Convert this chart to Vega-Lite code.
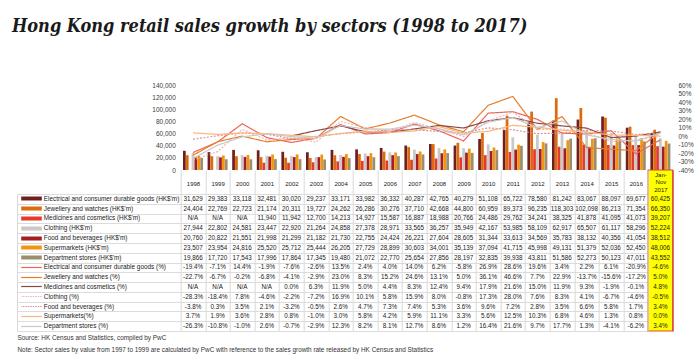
{
"$schema": "https://vega.github.io/schema/vega-lite/v6.json",
"autosize": {"type": "none"},
"width": 492, "height": 246,
"padding": {"left": 180.7, "top": 85, "right": 27.3, "bottom": 26},
"title": {"text": "Hong Kong retail sales growth by sectors (1998 to 2017)", "anchor": "start", "frame": "group", "orient": "top", "font": "DejaVu Serif Condensed, DejaVu Serif", "fontSize": 18, "fontStyle": "italic", "fontWeight": "bold", "color": "#1a1a1a", "dx": -168.7, "offset": 32, "baseline": "alphabetic"},
"config": {"font": "Liberation Sans", "view": {"stroke": null}, "locale": {"number": {"decimal": ".", "thousands": ",", "grouping": [3], "currency": ["$", ""], "minus": "-"}}},
"data": {"values": [
{"row":"Electrical and consumer durable goods (HK$'m)","year":"1998","v":31629},
{"row":"Electrical and consumer durable goods (HK$'m)","year":"1999","v":29383},
{"row":"Electrical and consumer durable goods (HK$'m)","year":"2000","v":33118},
{"row":"Electrical and consumer durable goods (HK$'m)","year":"2001","v":32481},
{"row":"Electrical and consumer durable goods (HK$'m)","year":"2002","v":30020},
{"row":"Electrical and consumer durable goods (HK$'m)","year":"2003","v":29237},
{"row":"Electrical and consumer durable goods (HK$'m)","year":"2004","v":33171},
{"row":"Electrical and consumer durable goods (HK$'m)","year":"2005","v":33982},
{"row":"Electrical and consumer durable goods (HK$'m)","year":"2006","v":36332},
{"row":"Electrical and consumer durable goods (HK$'m)","year":"2007","v":40287},
{"row":"Electrical and consumer durable goods (HK$'m)","year":"2008","v":42765},
{"row":"Electrical and consumer durable goods (HK$'m)","year":"2009","v":40279},
{"row":"Electrical and consumer durable goods (HK$'m)","year":"2010","v":51108},
{"row":"Electrical and consumer durable goods (HK$'m)","year":"2011","v":65722},
{"row":"Electrical and consumer durable goods (HK$'m)","year":"2012","v":78580},
{"row":"Electrical and consumer durable goods (HK$'m)","year":"2013","v":81242},
{"row":"Electrical and consumer durable goods (HK$'m)","year":"2014","v":83067},
{"row":"Electrical and consumer durable goods (HK$'m)","year":"2015","v":88097},
{"row":"Electrical and consumer durable goods (HK$'m)","year":"2016","v":69677},
{"row":"Electrical and consumer durable goods (HK$'m)","year":"Jan-Nov 2017","v":60425},
{"row":"Jewellery and watches (HK$'m)","year":"1998","v":24404},
{"row":"Jewellery and watches (HK$'m)","year":"1999","v":22769},
{"row":"Jewellery and watches (HK$'m)","year":"2000","v":22723},
{"row":"Jewellery and watches (HK$'m)","year":"2001","v":21174},
{"row":"Jewellery and watches (HK$'m)","year":"2002","v":20311},
{"row":"Jewellery and watches (HK$'m)","year":"2003","v":19727},
{"row":"Jewellery and watches (HK$'m)","year":"2004","v":24262},
{"row":"Jewellery and watches (HK$'m)","year":"2005","v":26286},
{"row":"Jewellery and watches (HK$'m)","year":"2006","v":30276},
{"row":"Jewellery and watches (HK$'m)","year":"2007","v":37710},
{"row":"Jewellery and watches (HK$'m)","year":"2008","v":42668},
{"row":"Jewellery and watches (HK$'m)","year":"2009","v":44800},
{"row":"Jewellery and watches (HK$'m)","year":"2010","v":60959},
{"row":"Jewellery and watches (HK$'m)","year":"2011","v":89373},
{"row":"Jewellery and watches (HK$'m)","year":"2012","v":96235},
{"row":"Jewellery and watches (HK$'m)","year":"2013","v":118303},
{"row":"Jewellery and watches (HK$'m)","year":"2014","v":102098},
{"row":"Jewellery and watches (HK$'m)","year":"2015","v":86213},
{"row":"Jewellery and watches (HK$'m)","year":"2016","v":71354},
{"row":"Jewellery and watches (HK$'m)","year":"Jan-Nov 2017","v":66350},
{"row":"Medicines and cosmetics (HK$'m)","year":"1998","v":null},
{"row":"Medicines and cosmetics (HK$'m)","year":"1999","v":null},
{"row":"Medicines and cosmetics (HK$'m)","year":"2000","v":null},
{"row":"Medicines and cosmetics (HK$'m)","year":"2001","v":11940},
{"row":"Medicines and cosmetics (HK$'m)","year":"2002","v":11942},
{"row":"Medicines and cosmetics (HK$'m)","year":"2003","v":12700},
{"row":"Medicines and cosmetics (HK$'m)","year":"2004","v":14213},
{"row":"Medicines and cosmetics (HK$'m)","year":"2005","v":14927},
{"row":"Medicines and cosmetics (HK$'m)","year":"2006","v":15587},
{"row":"Medicines and cosmetics (HK$'m)","year":"2007","v":16887},
{"row":"Medicines and cosmetics (HK$'m)","year":"2008","v":18988},
{"row":"Medicines and cosmetics (HK$'m)","year":"2009","v":20766},
{"row":"Medicines and cosmetics (HK$'m)","year":"2010","v":24486},
{"row":"Medicines and cosmetics (HK$'m)","year":"2011","v":29762},
{"row":"Medicines and cosmetics (HK$'m)","year":"2012","v":34241},
{"row":"Medicines and cosmetics (HK$'m)","year":"2013","v":38325},
{"row":"Medicines and cosmetics (HK$'m)","year":"2014","v":41878},
{"row":"Medicines and cosmetics (HK$'m)","year":"2015","v":41095},
{"row":"Medicines and cosmetics (HK$'m)","year":"2016","v":41073},
{"row":"Medicines and cosmetics (HK$'m)","year":"Jan-Nov 2017","v":39207},
{"row":"Clothing (HK$'m)","year":"1998","v":27944},
{"row":"Clothing (HK$'m)","year":"1999","v":22802},
{"row":"Clothing (HK$'m)","year":"2000","v":24581},
{"row":"Clothing (HK$'m)","year":"2001","v":23447},
{"row":"Clothing (HK$'m)","year":"2002","v":22920},
{"row":"Clothing (HK$'m)","year":"2003","v":21264},
{"row":"Clothing (HK$'m)","year":"2004","v":24858},
{"row":"Clothing (HK$'m)","year":"2005","v":27378},
{"row":"Clothing (HK$'m)","year":"2006","v":28971},
{"row":"Clothing (HK$'m)","year":"2007","v":33565},
{"row":"Clothing (HK$'m)","year":"2008","v":36257},
{"row":"Clothing (HK$'m)","year":"2009","v":35949},
{"row":"Clothing (HK$'m)","year":"2010","v":42167},
{"row":"Clothing (HK$'m)","year":"2011","v":53985},
{"row":"Clothing (HK$'m)","year":"2012","v":58109},
{"row":"Clothing (HK$'m)","year":"2013","v":62917},
{"row":"Clothing (HK$'m)","year":"2014","v":65507},
{"row":"Clothing (HK$'m)","year":"2015","v":61117},
{"row":"Clothing (HK$'m)","year":"2016","v":58296},
{"row":"Clothing (HK$'m)","year":"Jan-Nov 2017","v":52224},
{"row":"Food and beverages (HK$'m)","year":"1998","v":20760},
{"row":"Food and beverages (HK$'m)","year":"1999","v":20822},
{"row":"Food and beverages (HK$'m)","year":"2000","v":21551},
{"row":"Food and beverages (HK$'m)","year":"2001","v":21998},
{"row":"Food and beverages (HK$'m)","year":"2002","v":21299},
{"row":"Food and beverages (HK$'m)","year":"2003","v":21182},
{"row":"Food and beverages (HK$'m)","year":"2004","v":21730},
{"row":"Food and beverages (HK$'m)","year":"2005","v":22755},
{"row":"Food and beverages (HK$'m)","year":"2006","v":24424},
{"row":"Food and beverages (HK$'m)","year":"2007","v":26221},
{"row":"Food and beverages (HK$'m)","year":"2008","v":27604},
{"row":"Food and beverages (HK$'m)","year":"2009","v":28605},
{"row":"Food and beverages (HK$'m)","year":"2010","v":31344},
{"row":"Food and beverages (HK$'m)","year":"2011","v":33613},
{"row":"Food and beverages (HK$'m)","year":"2012","v":34569},
{"row":"Food and beverages (HK$'m)","year":"2013","v":35783},
{"row":"Food and beverages (HK$'m)","year":"2014","v":38132},
{"row":"Food and beverages (HK$'m)","year":"2015","v":40356},
{"row":"Food and beverages (HK$'m)","year":"2016","v":41054},
{"row":"Food and beverages (HK$'m)","year":"Jan-Nov 2017","v":38512},
{"row":"Supermarkets (HK$'m)","year":"1998","v":23507},
{"row":"Supermarkets (HK$'m)","year":"1999","v":23954},
{"row":"Supermarkets (HK$'m)","year":"2000","v":24816},
{"row":"Supermarkets (HK$'m)","year":"2001","v":25520},
{"row":"Supermarkets (HK$'m)","year":"2002","v":25712},
{"row":"Supermarkets (HK$'m)","year":"2003","v":25444},
{"row":"Supermarkets (HK$'m)","year":"2004","v":26205},
{"row":"Supermarkets (HK$'m)","year":"2005","v":27729},
{"row":"Supermarkets (HK$'m)","year":"2006","v":28899},
{"row":"Supermarkets (HK$'m)","year":"2007","v":30603},
{"row":"Supermarkets (HK$'m)","year":"2008","v":34001},
{"row":"Supermarkets (HK$'m)","year":"2009","v":35139},
{"row":"Supermarkets (HK$'m)","year":"2010","v":37094},
{"row":"Supermarkets (HK$'m)","year":"2011","v":41715},
{"row":"Supermarkets (HK$'m)","year":"2012","v":45998},
{"row":"Supermarkets (HK$'m)","year":"2013","v":49131},
{"row":"Supermarkets (HK$'m)","year":"2014","v":51379},
{"row":"Supermarkets (HK$'m)","year":"2015","v":52036},
{"row":"Supermarkets (HK$'m)","year":"2016","v":52450},
{"row":"Supermarkets (HK$'m)","year":"Jan-Nov 2017","v":48006},
{"row":"Department stores (HK$'m)","year":"1998","v":19866},
{"row":"Department stores (HK$'m)","year":"1999","v":17720},
{"row":"Department stores (HK$'m)","year":"2000","v":17543},
{"row":"Department stores (HK$'m)","year":"2001","v":17996},
{"row":"Department stores (HK$'m)","year":"2002","v":17864},
{"row":"Department stores (HK$'m)","year":"2003","v":17345},
{"row":"Department stores (HK$'m)","year":"2004","v":19480},
{"row":"Department stores (HK$'m)","year":"2005","v":21072},
{"row":"Department stores (HK$'m)","year":"2006","v":22770},
{"row":"Department stores (HK$'m)","year":"2007","v":25654},
{"row":"Department stores (HK$'m)","year":"2008","v":27856},
{"row":"Department stores (HK$'m)","year":"2009","v":28197},
{"row":"Department stores (HK$'m)","year":"2010","v":32835},
{"row":"Department stores (HK$'m)","year":"2011","v":39938},
{"row":"Department stores (HK$'m)","year":"2012","v":43811},
{"row":"Department stores (HK$'m)","year":"2013","v":51586},
{"row":"Department stores (HK$'m)","year":"2014","v":52273},
{"row":"Department stores (HK$'m)","year":"2015","v":50123},
{"row":"Department stores (HK$'m)","year":"2016","v":47011},
{"row":"Department stores (HK$'m)","year":"Jan-Nov 2017","v":43552},
{"row":"Electrical and consumer durable goods (%)","year":"1998","v":-19.4},
{"row":"Electrical and consumer durable goods (%)","year":"1999","v":-7.1},
{"row":"Electrical and consumer durable goods (%)","year":"2000","v":14.4},
{"row":"Electrical and consumer durable goods (%)","year":"2001","v":-1.9},
{"row":"Electrical and consumer durable goods (%)","year":"2002","v":-7.6},
{"row":"Electrical and consumer durable goods (%)","year":"2003","v":-2.6},
{"row":"Electrical and consumer durable goods (%)","year":"2004","v":13.5},
{"row":"Electrical and consumer durable goods (%)","year":"2005","v":2.4},
{"row":"Electrical and consumer durable goods (%)","year":"2006","v":4.0},
{"row":"Electrical and consumer durable goods (%)","year":"2007","v":14.0},
{"row":"Electrical and consumer durable goods (%)","year":"2008","v":6.2},
{"row":"Electrical and consumer durable goods (%)","year":"2009","v":-5.8},
{"row":"Electrical and consumer durable goods (%)","year":"2010","v":26.9},
{"row":"Electrical and consumer durable goods (%)","year":"2011","v":28.6},
{"row":"Electrical and consumer durable goods (%)","year":"2012","v":19.6},
{"row":"Electrical and consumer durable goods (%)","year":"2013","v":3.4},
{"row":"Electrical and consumer durable goods (%)","year":"2014","v":2.2},
{"row":"Electrical and consumer durable goods (%)","year":"2015","v":6.1},
{"row":"Electrical and consumer durable goods (%)","year":"2016","v":-20.9},
{"row":"Electrical and consumer durable goods (%)","year":"Jan-Nov 2017","v":-4.6},
{"row":"Jewellery and watches (%)","year":"1998","v":-22.7},
{"row":"Jewellery and watches (%)","year":"1999","v":-6.7},
{"row":"Jewellery and watches (%)","year":"2000","v":-0.2},
{"row":"Jewellery and watches (%)","year":"2001","v":-6.8},
{"row":"Jewellery and watches (%)","year":"2002","v":-4.1},
{"row":"Jewellery and watches (%)","year":"2003","v":-2.9},
{"row":"Jewellery and watches (%)","year":"2004","v":23.0},
{"row":"Jewellery and watches (%)","year":"2005","v":8.3},
{"row":"Jewellery and watches (%)","year":"2006","v":15.2},
{"row":"Jewellery and watches (%)","year":"2007","v":24.6},
{"row":"Jewellery and watches (%)","year":"2008","v":13.1},
{"row":"Jewellery and watches (%)","year":"2009","v":5.0},
{"row":"Jewellery and watches (%)","year":"2010","v":36.1},
{"row":"Jewellery and watches (%)","year":"2011","v":46.6},
{"row":"Jewellery and watches (%)","year":"2012","v":7.7},
{"row":"Jewellery and watches (%)","year":"2013","v":22.9},
{"row":"Jewellery and watches (%)","year":"2014","v":-13.7},
{"row":"Jewellery and watches (%)","year":"2015","v":-15.6},
{"row":"Jewellery and watches (%)","year":"2016","v":-17.2},
{"row":"Jewellery and watches (%)","year":"Jan-Nov 2017","v":5.0},
{"row":"Medicines and cosmetics (%)","year":"1998","v":null},
{"row":"Medicines and cosmetics (%)","year":"1999","v":null},
{"row":"Medicines and cosmetics (%)","year":"2000","v":null},
{"row":"Medicines and cosmetics (%)","year":"2001","v":null},
{"row":"Medicines and cosmetics (%)","year":"2002","v":0.0},
{"row":"Medicines and cosmetics (%)","year":"2003","v":6.3},
{"row":"Medicines and cosmetics (%)","year":"2004","v":11.9},
{"row":"Medicines and cosmetics (%)","year":"2005","v":5.0},
{"row":"Medicines and cosmetics (%)","year":"2006","v":4.4},
{"row":"Medicines and cosmetics (%)","year":"2007","v":8.3},
{"row":"Medicines and cosmetics (%)","year":"2008","v":12.4},
{"row":"Medicines and cosmetics (%)","year":"2009","v":9.4},
{"row":"Medicines and cosmetics (%)","year":"2010","v":17.9},
{"row":"Medicines and cosmetics (%)","year":"2011","v":21.6},
{"row":"Medicines and cosmetics (%)","year":"2012","v":15.0},
{"row":"Medicines and cosmetics (%)","year":"2013","v":11.9},
{"row":"Medicines and cosmetics (%)","year":"2014","v":9.3},
{"row":"Medicines and cosmetics (%)","year":"2015","v":-1.9},
{"row":"Medicines and cosmetics (%)","year":"2016","v":-0.1},
{"row":"Medicines and cosmetics (%)","year":"Jan-Nov 2017","v":4.8},
{"row":"Clothing (%)","year":"1998","v":-28.3},
{"row":"Clothing (%)","year":"1999","v":-18.4},
{"row":"Clothing (%)","year":"2000","v":7.8},
{"row":"Clothing (%)","year":"2001","v":-4.6},
{"row":"Clothing (%)","year":"2002","v":-2.2},
{"row":"Clothing (%)","year":"2003","v":-7.2},
{"row":"Clothing (%)","year":"2004","v":16.9},
{"row":"Clothing (%)","year":"2005","v":10.1},
{"row":"Clothing (%)","year":"2006","v":5.8},
{"row":"Clothing (%)","year":"2007","v":15.9},
{"row":"Clothing (%)","year":"2008","v":8.0},
{"row":"Clothing (%)","year":"2009","v":-0.8},
{"row":"Clothing (%)","year":"2010","v":17.3},
{"row":"Clothing (%)","year":"2011","v":28.0},
{"row":"Clothing (%)","year":"2012","v":7.6},
{"row":"Clothing (%)","year":"2013","v":8.3},
{"row":"Clothing (%)","year":"2014","v":4.1},
{"row":"Clothing (%)","year":"2015","v":-6.7},
{"row":"Clothing (%)","year":"2016","v":-4.6},
{"row":"Clothing (%)","year":"Jan-Nov 2017","v":-0.5},
{"row":"Food and beverages (%)","year":"1998","v":-3.8},
{"row":"Food and beverages (%)","year":"1999","v":0.3},
{"row":"Food and beverages (%)","year":"2000","v":3.5},
{"row":"Food and beverages (%)","year":"2001","v":2.1},
{"row":"Food and beverages (%)","year":"2002","v":-3.2},
{"row":"Food and beverages (%)","year":"2003","v":-0.5},
{"row":"Food and beverages (%)","year":"2004","v":2.6},
{"row":"Food and beverages (%)","year":"2005","v":4.7},
{"row":"Food and beverages (%)","year":"2006","v":7.3},
{"row":"Food and beverages (%)","year":"2007","v":7.4},
{"row":"Food and beverages (%)","year":"2008","v":5.3},
{"row":"Food and beverages (%)","year":"2009","v":3.6},
{"row":"Food and beverages (%)","year":"2010","v":9.6},
{"row":"Food and beverages (%)","year":"2011","v":7.2},
{"row":"Food and beverages (%)","year":"2012","v":2.8},
{"row":"Food and beverages (%)","year":"2013","v":3.5},
{"row":"Food and beverages (%)","year":"2014","v":6.6},
{"row":"Food and beverages (%)","year":"2015","v":5.8},
{"row":"Food and beverages (%)","year":"2016","v":1.7},
{"row":"Food and beverages (%)","year":"Jan-Nov 2017","v":3.4},
{"row":"Supermarkets(%)","year":"1998","v":3.7},
{"row":"Supermarkets(%)","year":"1999","v":1.9},
{"row":"Supermarkets(%)","year":"2000","v":3.6},
{"row":"Supermarkets(%)","year":"2001","v":2.8},
{"row":"Supermarkets(%)","year":"2002","v":0.8},
{"row":"Supermarkets(%)","year":"2003","v":-1.0},
{"row":"Supermarkets(%)","year":"2004","v":3.0},
{"row":"Supermarkets(%)","year":"2005","v":5.8},
{"row":"Supermarkets(%)","year":"2006","v":4.2},
{"row":"Supermarkets(%)","year":"2007","v":5.9},
{"row":"Supermarkets(%)","year":"2008","v":11.1},
{"row":"Supermarkets(%)","year":"2009","v":3.3},
{"row":"Supermarkets(%)","year":"2010","v":5.6},
{"row":"Supermarkets(%)","year":"2011","v":12.5},
{"row":"Supermarkets(%)","year":"2012","v":10.3},
{"row":"Supermarkets(%)","year":"2013","v":6.8},
{"row":"Supermarkets(%)","year":"2014","v":4.6},
{"row":"Supermarkets(%)","year":"2015","v":1.3},
{"row":"Supermarkets(%)","year":"2016","v":0.8},
{"row":"Supermarkets(%)","year":"Jan-Nov 2017","v":0.0},
{"row":"Department stores (%)","year":"1998","v":-26.3},
{"row":"Department stores (%)","year":"1999","v":-10.8},
{"row":"Department stores (%)","year":"2000","v":-1.0},
{"row":"Department stores (%)","year":"2001","v":2.6},
{"row":"Department stores (%)","year":"2002","v":-0.7},
{"row":"Department stores (%)","year":"2003","v":-2.9},
{"row":"Department stores (%)","year":"2004","v":12.3},
{"row":"Department stores (%)","year":"2005","v":8.2},
{"row":"Department stores (%)","year":"2006","v":8.1},
{"row":"Department stores (%)","year":"2007","v":12.7},
{"row":"Department stores (%)","year":"2008","v":8.6},
{"row":"Department stores (%)","year":"2009","v":1.2},
{"row":"Department stores (%)","year":"2010","v":16.4},
{"row":"Department stores (%)","year":"2011","v":21.6},
{"row":"Department stores (%)","year":"2012","v":9.7},
{"row":"Department stores (%)","year":"2013","v":17.7},
{"row":"Department stores (%)","year":"2014","v":1.3},
{"row":"Department stores (%)","year":"2015","v":-4.1},
{"row":"Department stores (%)","year":"2016","v":-6.2},
{"row":"Department stores (%)","year":"Jan-Nov 2017","v":3.4}
]},
"encoding": {
  "x": {"field": "year", "type": "nominal",
    "scale": {"domain": ["1998","1999","2000","2001","2002","2003","2004","2005","2006","2007","2008","2009","2010","2011","2012","2013","2014","2015","2016","Jan-Nov 2017"], "paddingInner": 0, "paddingOuter": 0},
    "axis": {"orient": "bottom", "title": null, "domain": false, "ticks": true, "tickBand": "extent", "tickSize": -161, "tickWidth": 1,
      "tickColor": {"expr": "datum.value == 'Jan-Nov 2017' ? '#E2463A' : '#D9D9D9'"},
      "labelPadding": {"expr": "datum.value == 'Jan-Nov 2017' ? 4 : 13"}, "labelBaseline": "middle", "labelAngle": 0, "labelFontSize": 6, "labelColor": "#1a1a1a", "labelLineHeight": 7.6,
      "labelExpr": "datum.value == 'Jan-Nov 2017' ? ['Jan-', 'Nov', '2017'] : datum.label", "zindex": 1}}
},
"resolve": {"scale": {"y": "independent"}},
"layer": [
  {"layer": [
    {"transform": [{"filter": "indexof(datum.row, 'HK$') >= 0"}],
     "mark": {"type": "bar"},
     "encoding": {
       "xOffset": {"field": "row", "type": "nominal", "scale": {"domain": ["Electrical and consumer durable goods (HK$'m)","Jewellery and watches (HK$'m)","Medicines and cosmetics (HK$'m)","Clothing (HK$'m)","Food and beverages (HK$'m)","Supermarkets (HK$'m)","Department stores (HK$'m)"], "paddingOuter": 0.8, "paddingInner": 0.05}},
       "y": {"field": "v", "type": "quantitative", "scale": {"domain": [0, 140000], "range": [85, 0], "nice": false},
         "axis": {"orient": "left", "title": null, "values": [0,20000,40000,60000,80000,100000,120000,140000], "labelExpr": "format(datum.value, ',')", "domain": false, "ticks": false, "grid": false, "labelPadding": 5.4, "labelFontSize": 6.5, "labelColor": "#404040"}},
       "fill": {"field": "row", "type": "nominal", "legend": null,
         "scale": {"domain": ["Electrical and consumer durable goods (HK$'m)","Jewellery and watches (HK$'m)","Medicines and cosmetics (HK$'m)","Clothing (HK$'m)","Food and beverages (HK$'m)","Supermarkets (HK$'m)","Department stores (HK$'m)"],
                   "range": ["#6E1F1F","#DD6A0B","#E53A2B","#C9C9C9","#A41D22","#F29410","#9B8E6E"]}}
     }},
    {"data": {"values": [{"year": "Jan-Nov 2017"}]},
     "mark": {"type": "rect", "fill": "#FFFF00", "stroke": "#E2463A", "strokeWidth": 1.2},
     "encoding": {"y": {"datum": 0, "type": "quantitative",
         "axis": {"orient": "left", "title": null, "values": [0,20000,40000,60000,80000,100000,120000,140000], "labelExpr": "format(datum.value, ',')", "domain": false, "ticks": false, "grid": false, "labelPadding": 5.4, "labelFontSize": 6.5, "labelColor": "#404040"}},
       "y2": {"value": "height"}}}
  ]},
  {"transform": [{"filter": "indexof(datum.row, '%') >= 0"}],
   "mark": {"type": "line", "strokeWidth": 1.2},
   "encoding": {
     "y": {"field": "v", "type": "quantitative", "scale": {"domain": [-40, 60], "range": [85, 0], "nice": false, "zero": false},
       "axis": {"orient": "right", "title": null, "values": [-40,-30,-20,-10,0,10,20,30,40,50,60], "labelExpr": "datum.value + '%'", "domain": false, "ticks": false, "grid": false, "labelPadding": 5.3, "labelFontSize": 6.5, "labelColor": "#404040"}},
     "stroke": {"field": "row", "type": "nominal", "legend": null,
       "scale": {"domain": ["Electrical and consumer durable goods (%)","Jewellery and watches (%)","Medicines and cosmetics (%)","Clothing (%)","Food and beverages (%)","Supermarkets(%)","Department stores (%)"],
                 "range": ["#EE6458","#E77E2C","#8A4848","#F2B4B4","#D98E9C","#FBB777","#C9C9C9"]}},
     "strokeDash": {"field": "row", "type": "nominal", "legend": null,
       "scale": {"domain": ["Electrical and consumer durable goods (%)","Jewellery and watches (%)","Medicines and cosmetics (%)","Clothing (%)","Food and beverages (%)","Supermarkets(%)","Department stores (%)"],
                 "range": [[1,0],[1,0],[1,0],[2,1.5],[2,1.5],[1,0],[1,0]]}}
   }},
  {"transform": [{"calculate": "datum.v === null ? 'N/A' : (indexof(datum.row, '%') >= 0 ? format(datum.v, '.1f') + '%' : format(datum.v, ','))", "as": "txt"}],
   "resolve": {"axis": {"y": "independent"}},
   "layer": [
     {"mark": {"type": "text", "fontSize": 6.3, "color": "#1a1a1a"},
      "encoding": {
        "y": {"field": "row", "type": "nominal",
          "scale": {"domain": ["Electrical and consumer durable goods (HK$'m)","Jewellery and watches (HK$'m)","Medicines and cosmetics (HK$'m)","Clothing (HK$'m)","Food and beverages (HK$'m)","Supermarkets (HK$'m)","Department stores (HK$'m)","Electrical and consumer durable goods (%)","Jewellery and watches (%)","Medicines and cosmetics (%)","Clothing (%)","Food and beverages (%)","Supermarkets(%)","Department stores (%)"], "range": [109, 246], "paddingInner": 0, "paddingOuter": 0},
          "axis": {"orient": "left", "offset": 139.4, "title": null, "domain": false, "grid": false, "ticks": true, "tickSize": 20.6, "tickCap": "butt",
            "tickWidth": {"expr": "indexof(datum.value, 'HK$') >= 0 ? 4 : 1.2"},
            "tickColor": {"expr": "(indexof(datum.value, 'HK$') >= 0 ? {Elec: '#6E1F1F', Jewe: '#DD6A0B', Medi: '#E53A2B', Clot: '#C9C9C9', Food: '#A41D22', Supe: '#F29410', Depa: '#9B8E6E'} : {Elec: '#EE6458', Jewe: '#E77E2C', Medi: '#8A4848', Clot: '#F2B4B4', Food: '#D98E9C', Supe: '#FBB777', Depa: '#C9C9C9'})[substring(datum.value, 0, 4)]"},
            "tickDash": {"expr": "(indexof(datum.value, 'Clothing (%)') >= 0 || indexof(datum.value, 'Food and beverages (%)') >= 0) ? [1.5, 1] : []"},
            "labelAlign": "left", "labelPadding": -22.6, "labelFontSize": 6.4, "labelColor": "#1a1a1a", "labelLimit": 300, "zindex": 1}},
        "text": {"field": "txt"}
      }},
     {"mark": {"type": "point", "opacity": 0},
      "encoding": {
        "y": {"field": "row", "type": "nominal",
          "axis": {"orient": "left", "offset": 163.7, "domain": true, "domainColor": "#D9D9D9", "domainWidth": 1, "grid": false, "ticks": true, "tickBand": "extent", "tickSize": -631.3, "tickColor": "#DCDCDC", "tickWidth": 1, "labels": false, "zindex": 0,
            "title": ["Source: HK Census and Statistics, compiled by PwC", "Note: Sector sales by value from 1997 to 1999 are calculated by PwC with reference to the sales growth rate released by HK Census and Statistics"],
            "titleAngle": 0, "titleX": 0, "titleY": 254, "titleAlign": "left", "titleBaseline": "alphabetic", "titleFontSize": 6.4, "titleFontWeight": "normal", "titleColor": "#333333", "titleLineHeight": 12}}
      }}
   ]}
]
}
